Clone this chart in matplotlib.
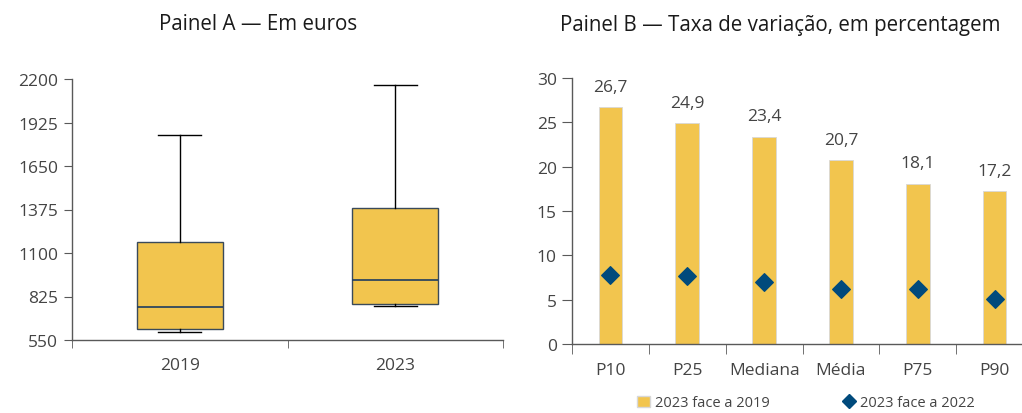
import numpy as np
import matplotlib.pyplot as plt
from matplotlib.lines import Line2D
from matplotlib.patches import Patch

plt.rcParams['font.family'] = ['Open Sans', 'DejaVu Sans']

# Painel A - distribution in euros
years = ['2019', '2023']
whisker_low = [600, 765]
q1 = [620, 778]
median = [759, 930]
q3 = [1170, 1385]
whisker_high = [1846, 2164]

# Painel B - growth rates
stats = ['P10', 'P25', 'Mediana', 'Média', 'P75', 'P90']
vs_2019 = [26.7, 24.9, 23.4, 20.7, 18.1, 17.2]
vs_2022 = [7.8, 7.7, 6.95, 6.2, 6.2, 5.1]

yellow = '#F2C54E'
navy = '#004A7C'
text_col = '#444444'
axis_col = '#595959'

fig = plt.figure(figsize=(10.22, 4.14), dpi=100)
W, H = 1022, 414
ax1 = fig.add_axes([72 / W, (H - 341) / H, (503 - 72) / W, (341 - 80) / H])
ax2 = fig.add_axes([572 / W, (H - 345) / H, (1033 - 572) / W, (345 - 79) / H])

# boxes drawn from the summary stats
bxp_stats = []
for i in range(len(years)):
    bxp_stats.append({'label': years[i], 'whislo': whisker_low[i], 'q1': q1[i],
                      'med': median[i], 'q3': q3[i], 'whishi': whisker_high[i],
                      'fliers': []})
ax1.bxp(bxp_stats, positions=[0.5, 1.5], widths=0.4, patch_artist=True,
        boxprops=dict(facecolor=yellow, edgecolor='#3a4a5a', linewidth=1),
        medianprops=dict(color='#1f3d5f', linewidth=1.2),
        whiskerprops=dict(color='black', linewidth=1),
        capprops=dict(color='black', linewidth=1),
        showfliers=False)
ax1.set_xlim(0, 2)
ax1.set_ylim(550, 2200)
ax1.set_yticks(np.arange(550, 2201, 275))
ax1.set_xticks([0.5, 1.5])
ax1.set_xticklabels(years)
ax1.set_xticks([0, 1, 2], minor=True)
ax1.tick_params(axis='x', which='major', length=0, pad=12)
ax1.tick_params(axis='x', which='minor', length=6, direction='out', color=axis_col)
ax1.tick_params(axis='y', length=6, color=axis_col, pad=4)

# bars and diamonds
x = np.arange(len(stats))
ax2.bar(x, vs_2019, width=0.31, color=yellow, edgecolor='#d8d8d8', linewidth=0.6, zorder=2)
ax2.scatter(x, vs_2022, marker='D', s=80, color=navy, zorder=3)
for xi, v in zip(x, vs_2019):
    ax2.annotate(f'{v:.1f}'.replace('.', ','), (xi, v), xytext=(0, 14.5),
                 textcoords='offset points', ha='center', va='center',
                 fontsize=12.5, color=text_col)
ax2.set_xlim(-0.5, len(stats) - 0.5)
ax2.set_ylim(0, 30)
ax2.set_yticks(np.arange(0, 31, 5))
ax2.set_xticks(x)
ax2.set_xticklabels(stats)
ax2.set_xticks(np.arange(-0.5, len(stats)), minor=True)
ax2.tick_params(axis='x', which='major', length=0, pad=13)
ax2.tick_params(axis='x', which='minor', length=7, direction='out', color=axis_col)
ax2.tick_params(axis='y', length=7, color=axis_col, pad=4)

for ax in (ax1, ax2):
    ax.spines['top'].set_visible(False)
    ax.spines['right'].set_visible(False)
    for s in ('left', 'bottom'):
        ax.spines[s].set_color(axis_col)
        ax.spines[s].set_linewidth(1)
    ax.tick_params(labelsize=12.5, labelcolor=text_col)

fig.text(258 / W, 1 - 25 / H, 'Painel A — Em euros', ha='center', va='center',
         fontsize=14.8, color='#1a1a1a')
fig.text(780 / W, 1 - 25 / H, 'Painel B — Taxa de variação, em percentagem',
         ha='center', va='center', fontsize=14.8, color='#1a1a1a')

handles = [Patch(facecolor=yellow, edgecolor='#d8d8d8', label='2023 face a 2019'),
           Line2D([], [], marker='D', color=navy, linestyle='none', markersize=7,
                  label='2023 face a 2022')]
fig.legend(handles=handles, loc='center', bbox_to_anchor=(806 / W, 1 - 404 / H),
           ncol=2, frameon=False, fontsize=10.5,
           handlelength=0.9, handletextpad=0.3, columnspacing=5, labelcolor=text_col)

fig.savefig('out.png', dpi=100)
